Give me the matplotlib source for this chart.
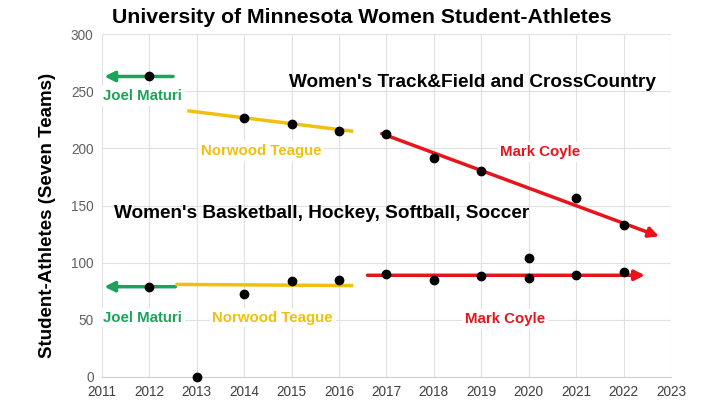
import matplotlib
matplotlib.use('Agg')
import matplotlib.pyplot as plt

plt.rcParams['font.family'] = ['Liberation Sans', 'DejaVu Sans']

# track & field / cross country
tf_years = [2012, 2014, 2015, 2016, 2017, 2018, 2019, 2021, 2022]
tf_values = [263, 227, 221, 215, 213, 192, 180, 157, 133]

# basketball, hockey, softball, soccer
bb_years = [2012, 2013, 2014, 2015, 2016, 2017, 2018, 2019, 2020, 2020, 2021, 2022]
bb_values = [79, 0, 73, 84, 85, 90, 85, 88, 87, 104, 89, 92]

# trend segments (start x, start y, end x, end y)
trends = [
    ('#1aa35a', (2012.5, 263), (2011.05, 263)),
    ('#1aa35a', (2012.55, 79), (2011.05, 79)),
    ('#f0c010', (2012.8, 233), (2016.3, 215)),
    ('#f0c010', (2012.55, 81), (2016.3, 80)),
    ('#e8141c', (2016.9, 213), (2022.75, 123)),
    ('#e8141c', (2016.6, 89), (2022.45, 89)),
]
arrowed = [True, True, False, False, True, True]

labels = [
    ('Joel Maturi', '#1aa35a', 2011.85, 246),
    ('Joel Maturi', '#1aa35a', 2011.85, 52),
    ('Norwood Teague', '#f0c010', 2014.35, 198),
    ('Norwood Teague', '#f0c010', 2014.6, 52),
    ('Mark Coyle', '#e8141c', 2020.25, 197),
    ('Mark Coyle', '#e8141c', 2019.5, 51),
]

fig = plt.figure(figsize=(7.23, 4.17), dpi=100)
ax = fig.add_axes([0.141, 0.096, 0.787, 0.822])

ax.set_xlim(2011, 2023)
ax.set_ylim(0, 300)
ax.set_xticks(range(2011, 2024))
ax.set_yticks(range(0, 301, 50))
ax.grid(color='#e0e0e0', linewidth=0.8)
ax.set_axisbelow(True)
for s in ['top', 'right', 'left']:
    ax.spines[s].set_visible(False)
ax.spines['bottom'].set_color('#d0d0d0')
ax.tick_params(length=0, labelsize=9.8, labelcolor='#404040', pad=6)
ax.tick_params(axis='y', labelcolor='#606060')

for (color, start, end), arr in zip(trends, arrowed):
    if arr:
        ax.annotate('', xy=end, xytext=start,
                    arrowprops=dict(arrowstyle='-|>,head_length=0.6,head_width=0.3',
                                    color=color, lw=2.5, shrinkA=0, shrinkB=0),
                    zorder=2)
    else:
        ax.plot([start[0], end[0]], [start[1], end[1]], color=color, lw=2.5, zorder=2,
                solid_capstyle='butt')

ax.plot(tf_years, tf_values, 'o', color='black', markersize=6, zorder=3, clip_on=False)
ax.plot(bb_years, bb_values, 'o', color='black', markersize=6, zorder=3, clip_on=False)

for text, color, x, y in labels:
    ax.text(x, y, text, color=color, fontsize=10.8, fontweight='bold', ha='center', va='center',
            bbox=dict(facecolor='white', edgecolor='none', pad=2), zorder=4)

ax.text(2014.95, 258, "Women's Track&Field and CrossCountry", fontsize=13.7, fontweight='bold',
        ha='left', va='center', zorder=4)
ax.text(2011.25, 143, "Women's Basketball, Hockey, Softball, Soccer", fontsize=13.7,
        fontweight='bold', ha='left', va='center', zorder=4)

ax.set_ylabel('Student-Athletes (Seven Teams)', fontsize=13.5, fontweight='bold')
ax.yaxis.set_label_coords(-0.08, 0.47)
fig.text(0.5, 0.958, 'University of Minnesota Women Student-Athletes', fontsize=15.3,
         fontweight='bold', ha='center', va='center')

fig.savefig('out.png', dpi=100)
